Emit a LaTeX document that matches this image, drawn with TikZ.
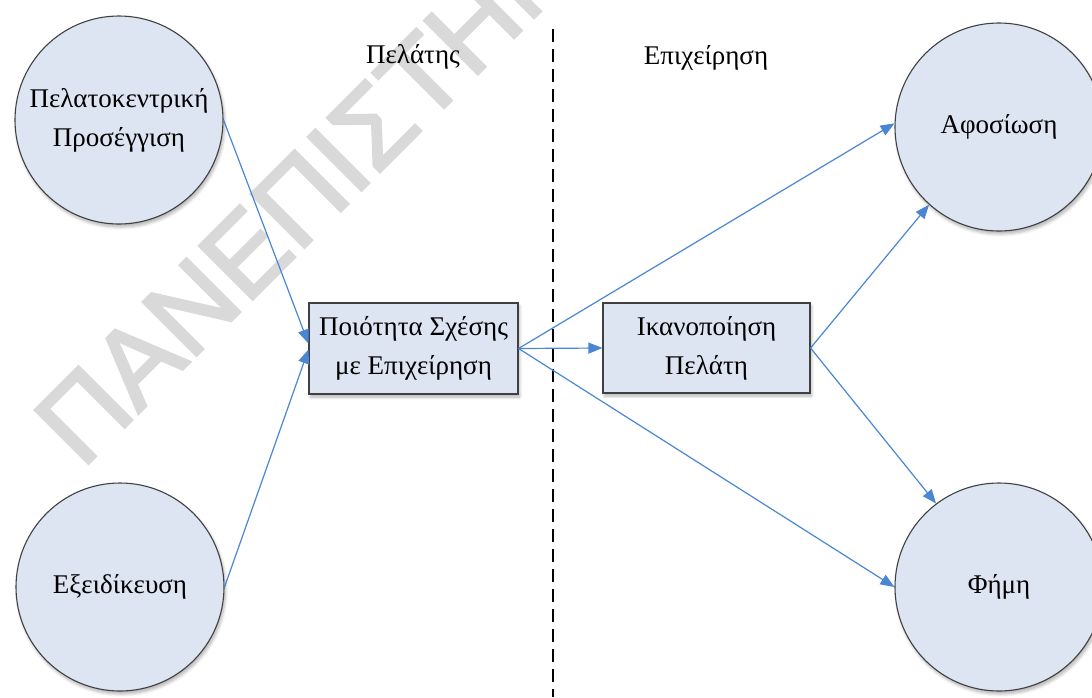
\documentclass[tikz,border=0pt]{standalone}
\usepackage{fontspec}
\setmainfont{Liberation Serif}
\newfontfamily\wmfont[FakeBold=2.5]{Liberation Sans}
\usetikzlibrary{arrows.meta,shadows.blur}
\definecolor{nodefill}{HTML}{DDE5F2}
\definecolor{nodeline}{HTML}{404040}
\definecolor{linkblue}{HTML}{4A86D4}
\definecolor{wmgray}{HTML}{D9D9D9}
\begin{document}
\begin{tikzpicture}[x=1pt,y=-1pt,
  font=\fontsize{27}{39}\selectfont,
  soft/.style={blur shadow={shadow xshift=1.5pt,shadow yshift=-3pt,shadow blur radius=3pt,shadow blur steps=6,shadow opacity=30}},
  concept/.style={circle,draw=nodeline,line width=1.1pt,fill=nodefill,
    minimum size=208pt,inner sep=0pt,align=center,soft},
  stepbox/.style={rectangle,draw=nodeline,line width=1.1pt,fill=nodefill,
    minimum width=209pt,minimum height=91pt,inner sep=0pt,align=center,soft},
  link/.style={draw=linkblue,line width=1.2pt,-{Triangle[length=14pt,width=11pt]}},
  side/.style={anchor=base,inner sep=0pt}]
\useasboundingbox (0,0) rectangle (1092,697);

% watermark behind everything
\node[wmgray,font=\wmfont\fontsize{110}{110}\selectfont,rotate=45,
      anchor=base west,inner sep=0pt] (wm) at (82,470) {ΠΑΝΕΠΙΣΤΗΜΙΟ};

% column headings and divider
\node[side] (lblc) at (413,63) {Πελάτης};
\node[side] (lblb) at (706,64) {Επιχείρηση};
\coordinate (divtop) at (553,29);
\coordinate (divbot) at (553,697);
\draw[black,line width=1.4pt,dash pattern=on 13pt off 7pt] (divtop) -- (divbot);

% concepts
\node[concept] (cust) at (119,120) {Πελατοκεντρική\\Προσέγγιση};
\node[concept] (spec) at (120,587) {Εξειδίκευση};
\node[stepbox] (quality) at (413.5,348.5) {Ποιότητα Σχέσης\\με Επιχείρηση};
\node[stepbox,minimum width=207pt,minimum height=90pt] (satis) at (706.5,348) {Ικανοποίηση\\Πελάτη};
\node[concept] (loyal) at (999,127) {Αφοσίωση};
\node[concept] (fame) at (999,587) {Φήμη};

% relations
\draw[link] (cust.east) -- ([yshift=5pt]quality.west);
\draw[link] (spec.east) -- ([yshift=-1pt]quality.west);
\draw[link] (quality.east) -- (loyal.178);
\draw[link] (quality.east) -- (satis.west);
\draw[link] (quality.east) -- (fame.west);
\draw[link] (satis.east) -- (loyal.228);
\draw[link] (satis.east) -- (fame.127);
\end{tikzpicture}
\end{document}
